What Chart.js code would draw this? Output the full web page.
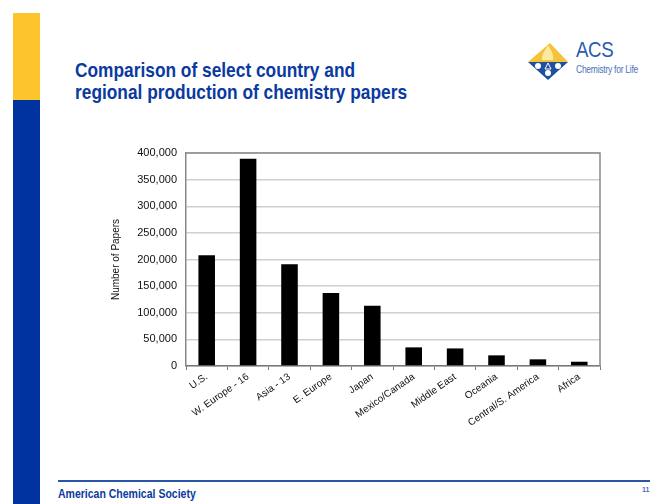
<!DOCTYPE html>
<html>
<head>
<meta charset="utf-8">
<script src="https://cdn.jsdelivr.net/npm/chart.js@4.4.1/dist/chart.umd.min.js"></script>
<style>
  html, body { margin: 0; padding: 0; background: #fff; }
  body { width: 650px; height: 504px; position: relative; overflow: hidden; font-family: "Liberation Sans", Arial, sans-serif; }
  .bar-yellow { position: absolute; left: 13px; top: 13px; width: 27px; height: 87px; background: #fcc52e; }
  .bar-blue { position: absolute; left: 13px; top: 100px; width: 27px; height: 404px; background: #0033a0; }
  .title { position: absolute; left: 75px; top: 59px; font-weight: bold; font-size: 20.5px; line-height: 22px; color: #0a3aa0; white-space: nowrap; transform: scaleX(0.845); transform-origin: 0 0; }
  .logo { position: absolute; left: 526px; top: 38px; width: 124px; height: 44px; }
  .acs { position: absolute; left: 576px; top: 39px; font-size: 22px; color: #2b5cae; line-height: 22px; letter-spacing: -0.5px; transform: scaleX(0.85); transform-origin: 0 0; }
  .cfl { position: absolute; left: 576px; top: 65px; font-size: 10px; color: #4a72b8; line-height: 10px; letter-spacing: -0.3px; white-space: nowrap; transform: scaleX(0.85); transform-origin: 0 0; }
  .footline { position: absolute; left: 58px; top: 480px; width: 592px; height: 2px; background: #2a56a8; }
  .footer { position: absolute; left: 58px; top: 487px; font-weight: bold; font-size: 12.5px; color: #0a3aa0; white-space: nowrap; transform: scaleX(0.84); transform-origin: 0 0; }
  .pagenum { position: absolute; left: 642px; top: 486px; font-weight: bold; font-size: 7px; color: #4a6cc0; }
  #wrap { position: absolute; left: 0; top: 0; width: 650px; height: 504px; }
</style>
</head>
<body>
<div class="bar-yellow"></div>
<div class="bar-blue"></div>
<div class="title">Comparison of select country and<br>regional production of chemistry papers</div>
<svg class="logo" viewBox="0 0 124 44" width="124" height="44">
  <polygon points="2,24 24,5 42,24" fill="#f5c33a"/>
  <polygon points="2,24 42,24 22,42" fill="#1f4fa0"/>
  <path d="M16,22 C16,14 20,12 22,7 C24,12 28,14 27,22 Z" fill="#fbe9a0"/>
  <circle cx="12" cy="28" r="3" fill="#fff"/>
  <circle cx="32" cy="28" r="3" fill="#fff"/>
  <circle cx="22" cy="35" r="3" fill="#fff"/>
  <polygon points="22,25 19,31 25,31" fill="none" stroke="#fff" stroke-width="1"/>
</svg>
<div class="acs">ACS</div>
<div class="cfl">Chemistry for Life</div>
<div class="footline"></div>
<div class="footer">American Chemical Society</div>
<div class="pagenum">11</div>
<div id="wrap"><canvas id="c"></canvas></div>
<script>
const categories = ["U.S.", "W. Europe - 16", "Asia - 13", "E. Europe", "Japan", "Mexico/Canada", "Middle East", "Oceania", "Central/S. America", "Africa"];
const papers = [208000, 389000, 191000, 137000, 113000, 35000, 33000, 20000, 12500, 8000];
const yTickMax = 400000;
const yTickStep = 50000;
const yAxisTitle = "Number of Papers";

const frame = {
  id: 'frame',
  afterDatasetsDraw(chart) {
    const a = chart.chartArea;
    const ctx = chart.ctx;
    ctx.save();
    ctx.strokeStyle = '#8a8a8a';
    ctx.lineWidth = 1.5;
    ctx.beginPath();
    ctx.moveTo(a.left, a.top);
    ctx.lineTo(a.right, a.top);
    ctx.lineTo(a.right, a.bottom);
    ctx.stroke();
    ctx.restore();
  }
};

new Chart(document.getElementById('c'), {
  type: 'bar',
  data: {
    labels: categories,
    datasets: [{
      data: papers,
      backgroundColor: '#000',
      borderWidth: 0,
      barPercentage: 0.4,
      categoryPercentage: 1.0
    }]
  },
  options: {
    responsive: true,
    maintainAspectRatio: false,
    animation: false,
    devicePixelRatio: 1,
    layout: { padding: { left: 110, top: 153, right: 50, bottom: 0 } },
    plugins: { legend: { display: false }, tooltip: { enabled: false } },
    scales: {
      x: {
        grid: { display: true, drawOnChartArea: false, offset: true, tickLength: 4, color: '#777', lineWidth: 1 },
        border: { display: true, color: '#777', width: 1.5 },
        ticks: { minRotation: 35, maxRotation: 35, autoSkip: false, padding: 1, color: '#111', font: { family: '"Liberation Sans", Arial, sans-serif', size: 10 } },
        afterFit(s) { s.height = 504 - 366; }
      },
      y: {
        min: 0,
        max: yTickMax,
        grid: { color: '#cfcfcf', lineWidth: 1.5, drawTicks: false },
        border: { display: true, color: '#888', width: 1.5 },
        ticks: { stepSize: yTickStep, padding: 9, color: '#111', font: { family: '"Liberation Sans", Arial, sans-serif', size: 11 },
          callback: v => v.toLocaleString('en-US') },
        title: { display: true, text: yAxisTitle, padding: 0, color: '#111', font: { family: '"Liberation Sans", Arial, sans-serif', size: 10 } },
        afterFit(s) { s.width = 186 - 110; }
      }
    }
  },
  plugins: [frame]
});
</script>
</body>
</html>
